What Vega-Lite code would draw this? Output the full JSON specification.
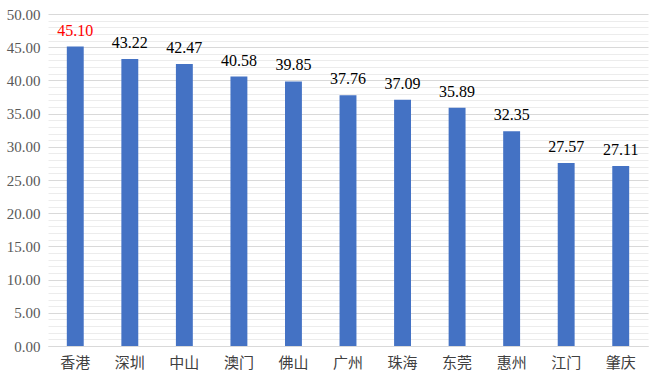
{
  "$schema": "https://vega.github.io/schema/vega-lite/v6.json",
  "width": 600,
  "height": 332,
  "autosize": {"type": "none"},
  "padding": {"left": 48, "top": 14, "right": 3, "bottom": 34},
  "background": "white",
  "config": {"view": {"stroke": null}},
  "data": {
    "values": [
      {"city": "香港", "value": 45.10},
      {"city": "深圳", "value": 43.22},
      {"city": "中山", "value": 42.47},
      {"city": "澳门", "value": 40.58},
      {"city": "佛山", "value": 39.85},
      {"city": "广州", "value": 37.76},
      {"city": "珠海", "value": 37.09},
      {"city": "东莞", "value": 35.89},
      {"city": "惠州", "value": 32.35},
      {"city": "江门", "value": 27.57},
      {"city": "肇庆", "value": 27.11}
    ]
  },
  "encoding": {
    "x": {
      "field": "city", "type": "nominal", "sort": null,
      "scale": {"paddingInner": 0.69, "paddingOuter": 0.345},
      "axis": {
        "title": null, "labelAngle": 0, "ticks": false,
        "labelFont": "Noto Sans CJK SC", "labelFontSize": 15, "labelColor": "#404040",
        "labelPadding": 9, "domainColor": "#d9d9d9", "domainWidth": 1
      }
    },
    "y": {
      "field": "value", "type": "quantitative",
      "scale": {"domain": [0, 50], "nice": false},
      "axis": {
        "title": null, "ticks": false, "domain": false,
        "values": [0,1,2,3,4,5,6,7,8,9,10,11,12,13,14,15,16,17,18,19,20,21,22,23,24,25,26,27,28,29,30,31,32,33,34,35,36,37,38,39,40,41,42,43,44,45,46,47,48,49,50],
        "labelExpr": "datum.value % 5 === 0 ? format(datum.value, '.2f') : ''",
        "labelFont": "Liberation Serif", "labelFontSize": 15, "labelColor": "#595959",
        "labelPadding": 8,
        "gridColor": {"condition": {"test": "datum.value % 5 === 0", "value": "#d9d9d9"}, "value": "#ececec"},
        "gridWidth": 1
      }
    }
  },
  "layer": [
    {"mark": {"type": "bar", "color": "#4472C4"}},
    {
      "mark": {"type": "text", "dy": -16, "font": "Liberation Serif", "fontSize": 16},
      "encoding": {
        "text": {"field": "value", "type": "quantitative", "format": ".2f"},
        "color": {
          "condition": {"test": "datum.city === '香港'", "value": "#ff0000"},
          "value": "#000000"
        }
      }
    }
  ]
}
